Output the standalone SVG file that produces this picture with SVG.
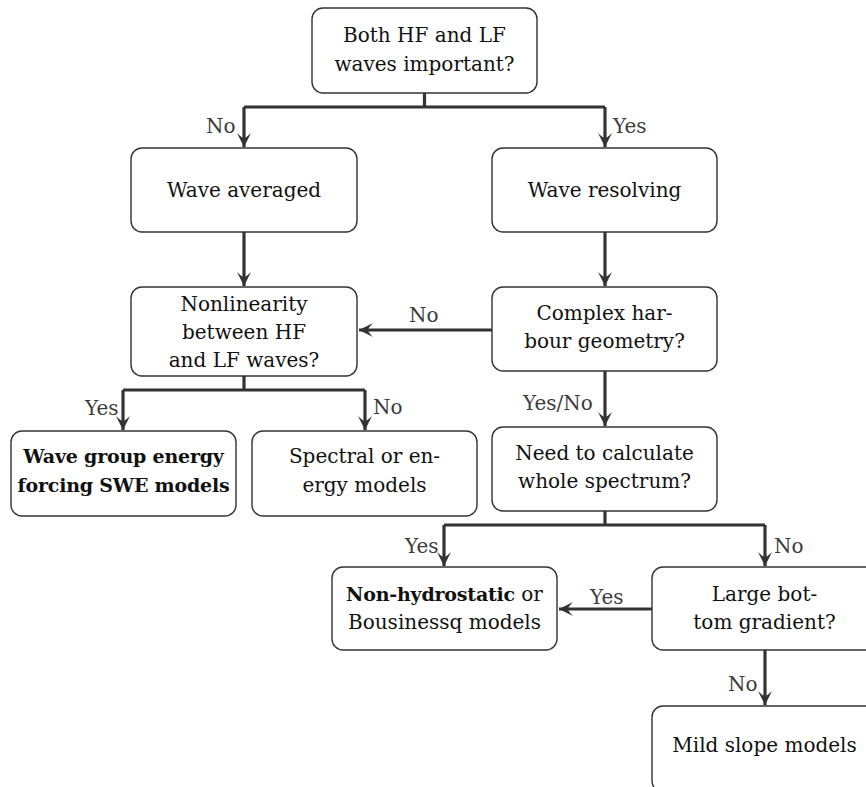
<svg xmlns="http://www.w3.org/2000/svg" width="866" height="787" viewBox="0 0 866 787">
<defs>
<marker id="ah" viewBox="-15 -8 16 16" refX="0" refY="0" markerWidth="16" markerHeight="16" markerUnits="userSpaceOnUse" orient="auto">
<path d="M0,0 L-14,-7 Q-9,-2 -9,0 Q-9,2 -14,7 Z" fill="#333"/>
</marker>
<style>
.box{fill:#fff;stroke:#333;stroke-width:1.4}
.t{font-family:"DejaVu Serif",serif;font-size:20px;fill:#111;text-anchor:middle}
.b{font-weight:bold;font-size:19px;letter-spacing:-0.2px}
.lbl{font-family:"DejaVu Serif",serif;font-size:20px;fill:#3c3c3c}
.ln{fill:none;stroke:#333;stroke-width:3.2}
.ar{fill:none;stroke:#333;stroke-width:3.2;marker-end:url(#ah)}
</style>
</defs>
<rect width="866" height="787" fill="#fff"/>
<g id="connectors">
<path class="ln" d="M424.5,93 V107 M244,107 H605"/>
<path class="ar" d="M244,107 V147"/>
<path class="ar" d="M605,107 V147"/>
<path class="ar" d="M244,232 V286"/>
<path class="ar" d="M605,232 V286"/>
<path class="ar" d="M492,330 H359"/>
<path class="ln" d="M244,376 V390 M123,390 H365"/>
<path class="ar" d="M123,390 V430"/>
<path class="ar" d="M365,390 V430"/>
<path class="ar" d="M605,371 V426"/>
<path class="ln" d="M605,511 V525 M444,525 H765"/>
<path class="ar" d="M444,525 V566"/>
<path class="ar" d="M765,525 V566"/>
<path class="ar" d="M652,609 H559"/>
<path class="ar" d="M765,650 V705"/>
<text class="lbl" x="206" y="133">No</text>
<text class="lbl" x="613" y="133">Yes</text>
<text class="lbl" x="409" y="322">No</text>
<text class="lbl" x="85" y="415">Yes</text>
<text class="lbl" x="373" y="414">No</text>
<text class="lbl" x="523" y="410">Yes/No</text>
<text class="lbl" x="405" y="553">Yes</text>
<text class="lbl" x="774" y="553">No</text>
<text class="lbl" x="590" y="604">Yes</text>
<text class="lbl" x="728" y="691">No</text>
</g>
<g id="n-top">
<rect class="box" x="312" y="8" width="225" height="85" rx="11"/>
<text class="t" x="424.5" y="42">Both HF and LF</text>
<text class="t" x="424.5" y="71">waves important?</text>
</g>
<g id="n-avg">
<rect class="box" x="131" y="148" width="226" height="84" rx="11"/>
<text class="t" x="244" y="197">Wave averaged</text>
</g>
<g id="n-res">
<rect class="box" x="492" y="148" width="225" height="84" rx="11"/>
<text class="t" x="604.5" y="197">Wave resolving</text>
</g>
<g id="n-nonlin">
<rect class="box" x="131" y="287" width="226" height="89" rx="11"/>
<text class="t" x="244" y="311">Nonlinearity</text>
<text class="t" x="244" y="339">between HF</text>
<text class="t" x="244" y="367">and LF waves?</text>
</g>
<g id="n-complex">
<rect class="box" x="492" y="287" width="225" height="84" rx="11"/>
<text class="t" x="604.5" y="320">Complex har-</text>
<text class="t" x="604.5" y="348">bour geometry?</text>
</g>
<g id="n-group">
<rect class="box" x="11" y="431" width="225" height="85" rx="11"/>
<text class="t b" x="123.5" y="463">Wave group energy</text>
<text class="t b" x="123.5" y="492">forcing SWE models</text>
</g>
<g id="n-spectral">
<rect class="box" x="252" y="431" width="225" height="85" rx="11"/>
<text class="t" x="364.5" y="463">Spectral or en-</text>
<text class="t" x="364.5" y="492">ergy models</text>
</g>
<g id="n-need">
<rect class="box" x="492" y="427" width="225" height="84" rx="11"/>
<text class="t" x="604.5" y="460">Need to calculate</text>
<text class="t" x="604.5" y="488">whole spectrum?</text>
</g>
<g id="n-nonhydro">
<rect class="box" x="332" y="567" width="225" height="83" rx="11"/>
<text class="t" x="444.5" y="601"><tspan class="b">Non-hydrostatic</tspan> or</text>
<text class="t" x="444.5" y="629">Bousinessq models</text>
</g>
<g id="n-large">
<rect class="box" x="652" y="567" width="225" height="83" rx="11"/>
<text class="t" x="764.5" y="601">Large bot-</text>
<text class="t" x="764.5" y="629">tom gradient?</text>
</g>
<g id="n-mild">
<rect class="box" x="652" y="706" width="225" height="86" rx="11"/>
<text class="t" x="764.5" y="752">Mild slope models</text>
</g>
</svg>
